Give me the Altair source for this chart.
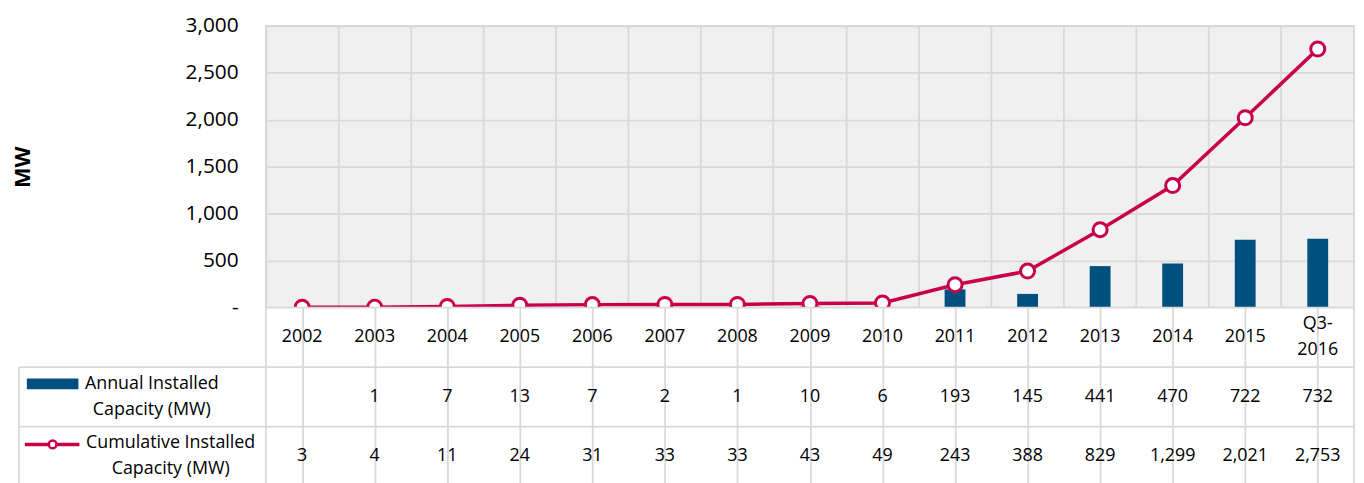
import altair as alt
import pandas as pd

years = ["2002", "2003", "2004", "2005", "2006", "2007", "2008", "2009",
         "2010", "2011", "2012", "2013", "2014", "2015", "Q3-2016"]
year_labels = ["2002", "2003", "2004", "2005", "2006", "2007", "2008", "2009",
               "2010", "2011", "2012", "2013", "2014", "2015", "Q3-\n2016"]
annual = [None, 1, 7, 13, 7, 2, 1, 10, 6, 193, 145, 441, 470, 722, 732]
cumulative = [3, 4, 11, 24, 31, 33, 33, 43, 49, 243, 388, 829, 1299, 2021, 2753]

BLUE = "#00507f"
RED = "#c8004a"
GRID = "#d9d9d9"
FONT = "Open Sans"
FS = 18
W = 1097

df = pd.DataFrame({"year": years, "annual": annual, "cumulative": cumulative})

xs = alt.Scale(domain=years, paddingInner=0, paddingOuter=0)
ys = alt.Scale(domain=[0, 3000])

x_axis = alt.Axis(labels=False, ticks=False, domain=False, grid=True,
                  bandPosition=0, gridColor=GRID, gridWidth=1.8)
x_top = alt.X("year:N", scale=xs, sort=years, title=None, axis=x_axis)

y_axis = alt.Axis(values=[0, 500, 1000, 1500, 2000, 2500, 3000],
                  labelExpr="datum.value == 0 ? '-\u00a0\u00a0\u00a0' : format(datum.value, ',')",
                  ticks=False, domain=False, grid=True, gridColor=GRID, gridWidth=1.8,
                  labelPadding=28, labelFontSize=21, labelFont=FONT, labelColor="#000",
                  title="MW", titleFont=FONT, titleFontSize=22, titleFontWeight="bold",
                  titleColor="#000", titleX=-245, titleY=142, titleAngle=270,
                  titleAlign="center", titleBaseline="middle")


def ych(field):
    return alt.Y(f"{field}:Q", scale=ys, axis=y_axis, title="MW")


bars = alt.Chart(df).mark_bar(color=BLUE, size=21).encode(x=x_top, y=ych("annual"))
line = alt.Chart(df).mark_line(color=RED, strokeWidth=3.5).encode(x=x_top, y=ych("cumulative"))
pts = alt.Chart(df).mark_point(shape="circle", filled=True, fill="white", stroke=RED,
                               strokeWidth=3, size=200, opacity=1).encode(
    x=x_top, y=ych("cumulative")
)

top = alt.layer(bars, line, pts).properties(
    width=W, height=284,
    view=alt.ViewBackground(fill="#f0f0f0", stroke=GRID, strokeWidth=1.8)
)

# ---- data table ----
rows = ["label", "annual", "cumulative"]
fmt = lambda v: "" if v is None else f"{v:,}"
tbl = pd.concat([
    pd.DataFrame({"year": years, "txt": year_labels, "row": "label"}),
    pd.DataFrame({"year": years, "txt": [fmt(v) for v in annual], "row": "annual"}),
    pd.DataFrame({"year": years, "txt": [fmt(v) for v in cumulative], "row": "cumulative"}),
], ignore_index=True)
tbl["multi"] = tbl["txt"].str.contains("\n")

x_tbl = alt.X("year:N", scale=xs, sort=years, title=None, axis=x_axis)
y_tbl = alt.Y("row:N", scale=alt.Scale(domain=rows, paddingInner=0, paddingOuter=0), axis=None)

cells = alt.Chart(tbl).transform_filter("!datum.multi").mark_text(
    font=FONT, fontSize=FS, color="#000", baseline="middle"
).encode(x=x_tbl, y=y_tbl, text="txt:N")
cells_multi = alt.Chart(tbl).transform_filter("datum.multi").mark_text(
    font=FONT, fontSize=FS, color="#000", lineBreak="\n", lineHeight=26, baseline="middle", dy=-13
).encode(x=x_tbl, y=y_tbl, text="txt:N")

legend_df = pd.DataFrame({"row": ["annual"]})
leg_annual = alt.Chart(pd.DataFrame({"row": ["annual"], "t": ["Annual Installed\nCapacity (MW)"]})).mark_text(
    font=FONT, fontSize=FS, color="#000", lineBreak="\n", lineHeight=26, align="center",
    baseline="middle", dy=-13
).encode(x=alt.value(-115), y=y_tbl, text="t:N")
leg_cum = alt.Chart(pd.DataFrame({"row": ["cumulative"], "t": ["Cumulative Installed\nCapacity (MW)"]})).mark_text(
    font=FONT, fontSize=FS, color="#000", lineBreak="\n", lineHeight=26, align="center",
    baseline="middle", dy=-13
).encode(x=alt.value(-96), y=y_tbl, text="t:N")

swatch = alt.Chart(legend_df).mark_rule(color=BLUE, strokeWidth=11).encode(
    x=alt.value(-241), x2=alt.value(-189), y=alt.value(77)
)
swline = alt.Chart(legend_df).mark_rule(color=RED, strokeWidth=3.5).encode(
    x=alt.value(-243), x2=alt.value(-188), y=alt.value(138)
)
swpt = alt.Chart(legend_df).mark_point(shape="circle", filled=True, fill="white", stroke=RED,
                                       strokeWidth=2.6, size=60, opacity=1).encode(
    x=alt.value(-215), y=alt.value(138)
)
hl1 = alt.Chart(legend_df).mark_rule(color=GRID, strokeWidth=1.8).encode(
    x=alt.value(-249), x2=alt.value(W), y=alt.value(60)
)
hl2 = alt.Chart(legend_df).mark_rule(color=GRID, strokeWidth=1.8).encode(
    x=alt.value(-249), x2=alt.value(W), y=alt.value(120)
)
vl = alt.Chart(legend_df).mark_rule(color=GRID, strokeWidth=1.8).encode(
    x=alt.value(-249), y=alt.value(60), y2=alt.value(180)
)

table = alt.layer(cells, cells_multi, hl1, hl2, vl, swatch, swline, swpt, leg_annual, leg_cum).properties(
    width=W, height=180,
    view=alt.ViewBackground(fill="white", stroke=GRID, strokeWidth=1.8)
)

chart = alt.vconcat(top, table, spacing=0, bounds="flush").properties(
    padding={"left": 3, "top": 4, "right": 0, "bottom": 0}
).configure(background="white")

chart.save("out.html", embed_options={"renderer": "svg", "actions": False})
